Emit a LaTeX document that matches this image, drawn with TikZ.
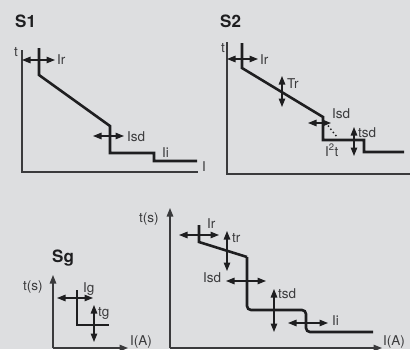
\documentclass[tikz,border=0pt]{standalone}
\usepackage{fontspec}
\setmainfont{TeX Gyre Heros}
\usetikzlibrary{arrows.meta}
\definecolor{panelgrey}{RGB}{221,222,224}
\definecolor{inkgrey}{RGB}{58,58,60}
\definecolor{curveblack}{RGB}{30,30,32}

\begin{document}
\begin{tikzpicture}[x=1pt,y=-1pt,
    axis/.style={line width=1.3pt, draw=inkgrey},
    curve/.style={line width=2.6pt, draw=curveblack},
    dimarrow/.style={line width=1.2pt, draw=curveblack,
      {Triangle[length=8.5pt,width=6.5pt]}-{Triangle[length=8.5pt,width=6.5pt]}},
    axisarrow/.style={axis, -{Triangle[length=8.5pt,width=6.5pt]}},
    lbl/.style={anchor=base west, inner sep=0pt, text=inkgrey,
      font=\fontsize{13.5}{16}\selectfont},
    ttl/.style={anchor=base west, inner sep=0pt, text=curveblack,
      font=\bfseries\fontsize{17}{20}\selectfont}]
  \fill[panelgrey] (0,0) rectangle (410,349);
  \useasboundingbox (0,0) rectangle (410,349);

  %-----S1
  \node[ttl] (S1) at (15,27) {S1};
  \coordinate (S1top) at (22,50);
  \coordinate (S1o) at (22,172);
  \coordinate (S1end) at (198,172);
  \draw[axis] (S1top) -- (S1o) -- (S1end);
  \node[lbl] (S1t) at (14,56) {t};
  \node[lbl] (S1I) at (202,171) {I};
  \coordinate (a1) at (39,48);
  \coordinate (a2) at (39,75);
  \coordinate (a3) at (110,126);
  \coordinate (a4) at (110,153);
  \coordinate (a5) at (154,153);
  \coordinate (a6) at (154,161);
  \coordinate (a7) at (197,161);
  \draw[curve] (a1) -- (a2) -- (a3) -- (a4) -- (a5) -- (a6) -- (a7);
  \coordinate (IrL) at (22,60);
  \coordinate (IrR) at (55,60);
  \draw[dimarrow] (IrL) -- (IrR);
  \node[lbl] (S1Ir) at (57,64) {Ir};
  \coordinate (IsdL) at (93,136);
  \coordinate (IsdR) at (124,136);
  \draw[dimarrow] (IsdL) -- (IsdR);
  \node[lbl] (S1Isd) at (127,141) {Isd};
  \node[lbl] (S1Ii) at (162,157) {Ii};

  %-----S2
  \node[ttl] (S2) at (220,27) {S2};
  \coordinate (S2top) at (227,42);
  \coordinate (S2o) at (227,174);
  \coordinate (S2end) at (410,174);
  \draw[axis] (S2top) -- (S2o) -- (S2end);
  \node[lbl] (S2t) at (221,52) {t};
  \coordinate (b1) at (242,43);
  \coordinate (b2) at (242,68);
  \coordinate (b3) at (323,117);
  \coordinate (b4) at (323,140);
  \coordinate (b5) at (364,140);
  \coordinate (b6) at (364,152);
  \coordinate (b7) at (404,152);
  \draw[curve] (b1) -- (b2) -- (b3) -- (b4) -- (b5) -- (b6) -- (b7);
  \coordinate (d1) at (326,123);
  \coordinate (d2) at (337,137);
  \draw[line width=2pt, curveblack, line cap=round, dash pattern=on 0pt off 4pt] (d1) -- (d2);
  \coordinate (IrL2) at (227,59);
  \coordinate (IrR2) at (258,59);
  \draw[dimarrow] (IrL2) -- (IrR2);
  \node[lbl] (S2Ir) at (260,64) {Ir};
  \coordinate (TrT) at (282,76);
  \coordinate (TrB) at (282,107);
  \draw[dimarrow] (TrT) -- (TrB);
  \node[lbl] (S2Tr) at (287,88) {Tr};
  \coordinate (IsdL2) at (308,123);
  \coordinate (IsdR2) at (331,123);
  \draw[dimarrow] (IsdL2) -- (IsdR2);
  \node[lbl] (S2Isd) at (332,118) {Isd};
  \coordinate (tsdT) at (354,127);
  \coordinate (tsdB) at (354,156);
  \draw[dimarrow] (tsdT) -- (tsdB);
  \node[lbl] (S2tsd) at (358,137) {tsd};
  \node[lbl] (S2I2t) at (325,156) {I\textsuperscript{2}t};

  %-----Sg
  \node[ttl] (Sg) at (52,262) {Sg};
  \coordinate (Sgo) at (53,348);
  \coordinate (Sgtop) at (53,275);
  \coordinate (Sgend) at (128,348);
  \draw[axisarrow] (Sgo) -- (Sgtop);
  \draw[axisarrow] (Sgo) -- (Sgend);
  \node[lbl] (Sgts) at (23,290) {t(s)};
  \node[lbl] (SgIA) at (130,345) {I(A)};
  \coordinate (c1) at (77,290);
  \coordinate (c2) at (77,325);
  \coordinate (c3) at (109,325);
  \draw[curve] (c1) -- (c2) -- (c3);
  \coordinate (IgL) at (57,298);
  \coordinate (IgR) at (93,298);
  \draw[dimarrow] (IgL) -- (IgR);
  \node[lbl] (SgIg) at (83,292) {Ig};
  \coordinate (tgT) at (94,305);
  \coordinate (tgB) at (94,342);
  \draw[dimarrow] (tgT) -- (tgB);
  \node[lbl] (Sgtg) at (98,316) {tg};

  %-----full curve
  \coordinate (Fo) at (170,348);
  \coordinate (Ftop) at (170,208);
  \coordinate (Fend) at (382,348);
  \draw[axisarrow] (Fo) -- (Ftop);
  \draw[axisarrow] (Fo) -- (Fend);
  \node[lbl] (Fts) at (139,222) {t(s)};
  \node[lbl] (FIA) at (383,345) {I(A)};
  \coordinate (e1) at (199,225);
  \coordinate (e2) at (199,242);
  \coordinate (e3) at (247,257);
  \coordinate (e4) at (247,310);
  \coordinate (e5) at (306,310);
  \coordinate (e6) at (306,332);
  \coordinate (e7) at (373,332);
  \draw[curve] (e1) -- (e2) -- (e3);
  \draw[curve, rounded corners=4pt] (e3) -- (e4) -- (e5) -- (e6) -- (e7);
  \coordinate (FIrL) at (179,235);
  \coordinate (FIrR) at (219,235);
  \draw[dimarrow] (FIrL) -- (FIrR);
  \node[lbl] (FIr) at (207,228) {Ir};
  \coordinate (FtrT) at (227,231);
  \coordinate (FtrB) at (227,271);
  \draw[dimarrow] (FtrT) -- (FtrB);
  \node[lbl] (Ftr) at (232,242) {tr};
  \coordinate (FIsdL) at (226,281);
  \coordinate (FIsdR) at (266,281);
  \draw[dimarrow] (FIsdL) -- (FIsdR);
  \node[lbl] (FIsd) at (203,282) {Isd};
  \coordinate (FtsdT) at (274,289);
  \coordinate (FtsdB) at (274,332);
  \draw[dimarrow] (FtsdT) -- (FtsdB);
  \node[lbl] (Ftsd) at (278,298) {tsd};
  \coordinate (FIiL) at (288,323);
  \coordinate (FIiR) at (328,323);
  \draw[dimarrow] (FIiL) -- (FIiR);
  \node[lbl] (FIi) at (332,325) {Ii};
\end{tikzpicture}
\end{document}
